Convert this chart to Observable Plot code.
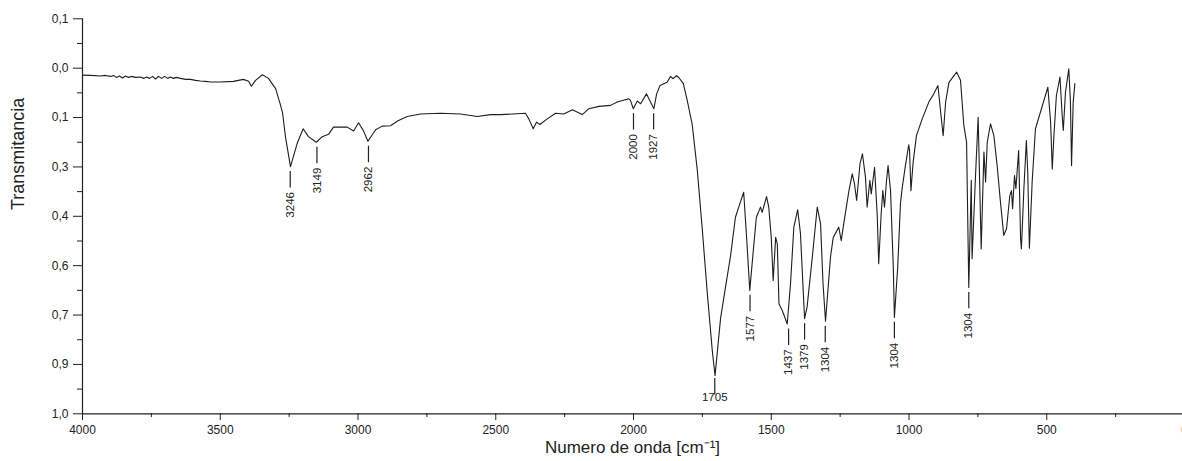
<!DOCTYPE html>
<html>
<head>
<meta charset="utf-8">
<script src="https://cdn.jsdelivr.net/npm/d3@7"></script>
<script src="https://cdn.jsdelivr.net/npm/@observablehq/plot@0.6"></script>
<style>
  html, body { margin: 0; padding: 0; background: #fff; }
</style>
</head>
<body>
<div id="chart"></div>
<script>
// Spectrum (wavenumber in cm-1, value on the axis scale)
const wavenumber = [
  4000,3971,3935,3917,3898,3887,3877,3866,3855,3844,
  3833,3822,3808,3789,3778,3768,3757,3746,3735,3724,
  3713,3702,3691,3681,3670,3659,3644,3626,3608,3590,
  3572,3554,3535,3499,3452,3416,3397,3387,3372,3347,
  3325,3299,3281,3274,3263,3245,3221,3199,3180,3151,
  3130,3107,3089,3071,3039,3016,2998,2981,2964,2936,
  2912,2882,2853,2821,2773,2700,2628,2567,2519,2483,
  2392,2380,2364,2352,2340,2313,2283,2253,2222,2186,
  2162,2125,2083,2059,2017,2011,2001,1986,1974,1953,
  1941,1926,1916,1904,1878,1866,1856,1844,1835,1819,
  1805,1787,1769,1751,1732,1714,1704,1684,1666,1648,
  1630,1618,1600,1588,1578,1563,1554,1539,1533,1517,
  1509,1500,1493,1484,1478,1472,1460,1442,1430,1418,
  1404,1394,1384,1379,1370,1351,1333,1321,1312,1303,
  1285,1275,1255,1246,1237,1218,1206,1198,1190,1178,
  1169,1158,1152,1142,1137,1125,1115,1110,1101,1095,
  1089,1082,1076,1067,1057,1053,1041,1031,1025,1013,
  1001,998,993,985,973,952,928,910,895,885,
  876,867,855,827,813,801,791,783,774,771,
  758,749,743,738,728,722,716,704,692,680,
  668,656,646,634,628,624,617,612,602,595,
  592,583,574,569,563,553,541,523,496,486,
  480,474,465,452,444,440,432,420,414,410,
  404,398
];
const transmittance = [
  -0.029,-0.028,-0.026,-0.028,-0.025,-0.028,-0.022,-0.026,-0.020,-0.026,
  -0.022,-0.025,-0.022,-0.023,-0.019,-0.023,-0.019,-0.025,-0.017,-0.025,
  -0.019,-0.025,-0.019,-0.023,-0.019,-0.022,-0.019,-0.016,-0.016,-0.013,
  -0.011,-0.010,-0.008,-0.008,-0.010,-0.016,-0.010,0.005,-0.013,-0.030,
  -0.019,0.012,0.063,0.085,0.160,0.249,0.179,0.134,0.158,0.175,
  0.158,0.151,0.129,0.129,0.129,0.141,0.116,0.139,0.172,0.137,
  0.126,0.125,0.109,0.097,0.089,0.087,0.089,0.097,0.091,0.091,
  0.087,0.104,0.134,0.114,0.121,0.104,0.087,0.089,0.076,0.091,
  0.073,0.066,0.063,0.053,0.043,0.048,0.073,0.050,0.058,0.028,
  0.048,0.073,0.028,0.003,-0.007,-0.025,-0.018,-0.027,-0.021,-0.003,
  0.048,0.121,0.255,0.433,0.635,0.808,0.884,0.710,0.615,0.522,
  0.403,0.372,0.327,0.484,0.625,0.484,0.403,0.372,0.388,0.340,
  0.372,0.464,0.595,0.464,0.484,0.666,0.686,0.727,0.604,0.433,
  0.380,0.452,0.625,0.711,0.676,0.524,0.372,0.423,0.605,0.719,
  0.524,0.464,0.433,0.474,0.423,0.322,0.271,0.301,0.352,0.241,
  0.210,0.281,0.372,0.291,0.332,0.251,0.403,0.544,0.392,0.322,
  0.372,0.296,0.246,0.322,0.555,0.707,0.555,0.361,0.316,0.246,
  0.183,0.200,0.322,0.236,0.155,0.104,0.053,0.028,0.003,0.084,
  0.155,0.053,-0.007,-0.038,-0.013,0.124,0.175,0.616,0.291,0.529,
  0.266,0.099,0.316,0.499,0.205,0.296,0.175,0.119,0.155,0.246,
  0.357,0.458,0.438,0.337,0.322,0.377,0.276,0.316,0.200,0.468,
  0.499,0.316,0.170,0.266,0.497,0.296,0.134,0.084,0.008,0.114,
  0.256,0.155,0.033,-0.023,0.094,0.139,0.023,-0.048,0.053,0.246,
  0.053,-0.003
];

// Peak annotations
const peakPosition = [3246, 3149, 2962, 2000, 1927, 1705, 1577, 1437, 1379, 1304, 1053, 783];
const peakLabel    = ["3246","3149","2962","2000","1927","1705","1577","1437","1379","1304","1304","1304"];
const peakHorizontal = ["1705"];

// Axes
const yTickValues = [-0.2, -0.05, 0.1, 0.25, 0.4, 0.55, 0.7, 0.85, 1.0];
const yTickLabels = ["0,1","0,0","0,1","0,3","0,4","0,6","0,7","0,9","1,0"];
const yMinorTicks = [-0.125, 0.025, 0.175, 0.325, 0.475, 0.625, 0.775, 0.925];
const xTickValues = [4000, 3500, 3000, 2500, 2000, 1500, 1000, 500, 0];
const xMinorTicks = [3750, 3250, 2750, 2250, 1750, 1250, 750, 250];
const xTitle = "Numero de onda [cm\u207B\u00B9]";
const yTitle = "Transmitancia";

const spectrum = wavenumber.map((w, i) => ({wn: w, t: transmittance[i]}));
function valueAt(w) {
  let best = spectrum[0];
  for (const p of spectrum) if (Math.abs(p.wn - w) < Math.abs(best.wn - w)) best = p;
  return best.t;
}
const peaks = peakPosition.map((p, i) => ({wn: p, label: peakLabel[i], tip: valueAt(p),
  horizontal: peakHorizontal.includes(peakLabel[i]) && Math.abs(p - +peakLabel[i]) < 5}));
const vPeaks = peaks.filter(d => !d.horizontal);
const hPeaks = peaks.filter(d => d.horizontal);

const sans = "'Liberation Sans', Arial, sans-serif";
const LEAD = 0.05;

const chart = Plot.plot({
  width: 1182,
  height: 461,
  marginLeft: 82,
  marginRight: 0,
  marginTop: 18,
  marginBottom: 48,
  x: {domain: [4000, 0], range: [82, 1184]},
  y: {domain: [-0.2, 1.0], range: [18.3, 413.3]},
  style: {fontFamily: sans, fontSize: "12px", color: "#222", background: "#fff"},
  marks: [
    Plot.axisY({ticks: yTickValues, tickFormat: d => yTickLabels[yTickValues.indexOf(d)], tickSize: 9, tickPadding: 5, label: null, stroke: "#222"}),
    Plot.axisY({ticks: yMinorTicks, tickFormat: () => "", tickSize: 5, label: null, stroke: "#222"}),
    Plot.axisX({ticks: xTickValues, tickFormat: d => String(d), tickSize: 7, tickPadding: 5, label: null, stroke: "#222"}),
    Plot.axisX({ticks: xMinorTicks, tickFormat: () => "", tickSize: 4, label: null, stroke: "#222"}),
    Plot.ruleX([4000], {y1: -0.2, y2: 1.0, stroke: "#222", strokeWidth: 1.2}),
    Plot.ruleY([1.0], {stroke: "#222", strokeWidth: 1.2}),
    Plot.line(spectrum, {x: "wn", y: "t", stroke: "#1e1e1e", strokeWidth: 1.1}),
    Plot.ruleX(vPeaks, {x: "wn", y1: "tip", y2: d => d.tip + LEAD, dy: 5, stroke: "#222", strokeWidth: 1.2}),
    Plot.ruleX(hPeaks, {x: "wn", y1: "tip", y2: d => d.tip + LEAD, dy: 3, stroke: "#222", strokeWidth: 1.2}),
    Plot.text(vPeaks, {x: "wn", y: d => d.tip + LEAD, text: "label", rotate: -90, textAnchor: "end", lineAnchor: "middle", dy: 9, fontSize: 11.5, fill: "#222"}),
    Plot.text(hPeaks, {x: "wn", y: d => d.tip + LEAD, text: "label", textAnchor: "middle", lineAnchor: "top", dy: 1, fontSize: 11.5, fill: "#222"}),
    Plot.text([yTitle], {frameAnchor: "left", rotate: -90, dx: -64, dy: -6, fontSize: 18, fill: "#222"}),
    Plot.text([xTitle], {frameAnchor: "bottom", dy: 39, fontSize: 17, fill: "#222"})
  ]
});
document.getElementById("chart").appendChild(chart);
</script>
</body>
</html>
